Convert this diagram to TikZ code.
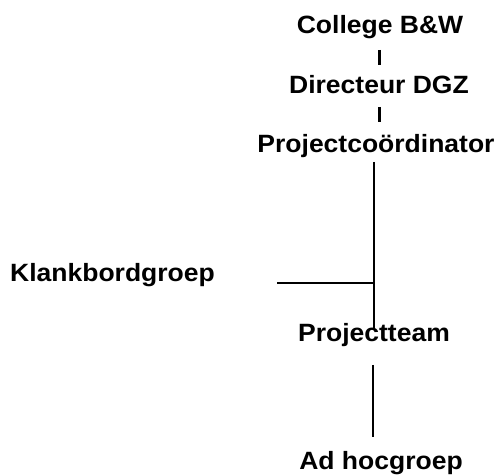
\documentclass[tikz,border=0pt]{standalone}
\usepackage{fontspec}
\newfontfamily\lblfont{Liberation Sans}[FakeStretch=1.06]
\begin{document}
\begin{tikzpicture}[x=1pt,y=-1pt,
  lbl/.style={inner sep=0pt,font=\lblfont\bfseries\fontsize{25}{29}\selectfont},
  bar/.style={line width=3pt},
  link/.style={line width=2pt}]
\useasboundingbox (0,0) rectangle (499,476);
\node[lbl,anchor=base] (cb) at (380,34) {College B\&W};
\node[lbl,anchor=base] (dir) at (379,94) {Directeur DGZ};
\node[lbl,anchor=base] (pc) at (376,153) {Projectcoördinator};
\node[lbl,anchor=base west] (kb) at (10,282) {Klankbordgroep};
\node[lbl,anchor=base] (pt) at (374,342) {Projectteam};
\node[lbl,anchor=base] (ah) at (381,469) {Ad hocgroep};
\coordinate (j) at (374,283);
\coordinate (kbend) at (277,283);
\draw[bar] ([shift={(-1,16)}]cb.base) -- ([shift={(0,-29)}]dir.base);
\draw[bar] ([shift={(0,13)}]dir.base) -- ([shift={(3,-31)}]pc.base);
\draw[link] ([shift={(-2,9)}]pc.base) -- ([shift={(0,-12)}]pt.base);
\draw[link] (kbend) -- (j);
\draw[link] ([shift={(-1,23)}]pt.base) -- ([shift={(-8,-32)}]ah.base);
\end{tikzpicture}
\end{document}
